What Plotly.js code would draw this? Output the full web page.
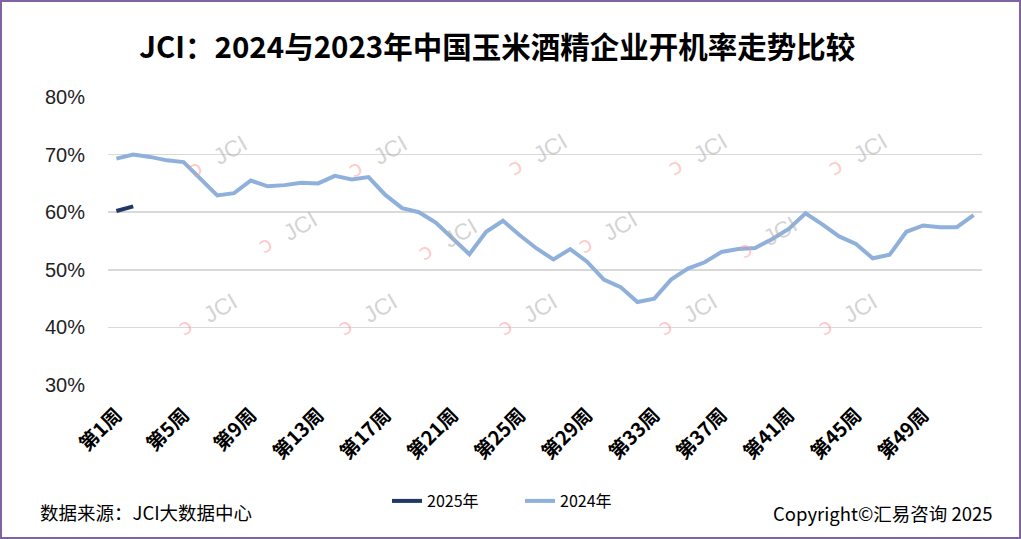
<!DOCTYPE html>
<html>
<head>
<meta charset="utf-8">
<script src="https://cdn.plot.ly/plotly-3.0.1.min.js"></script>
<style>
html,body{margin:0;padding:0;background:#fff;}
#wrap{position:relative;width:1021px;height:539px;}
#chart{position:absolute;left:0;top:0;width:1021px;height:539px;}
#frame{position:absolute;left:0;top:0;width:1021px;height:539px;box-sizing:border-box;border:2px solid #8064A2;pointer-events:none;}
</style>
</head>
<body>
<div id="wrap"><div id="chart"></div><div id="frame"></div></div>
<script>
// Categories: weeks 1..52
var weeks = ["第1周","第2周","第3周","第4周","第5周","第6周","第7周","第8周","第9周","第10周",
"第11周","第12周","第13周","第14周","第15周","第16周","第17周","第18周","第19周","第20周",
"第21周","第22周","第23周","第24周","第25周","第26周","第27周","第28周","第29周","第30周",
"第31周","第32周","第33周","第34周","第35周","第36周","第37周","第38周","第39周","第40周",
"第41周","第42周","第43周","第44周","第45周","第46周","第47周","第48周","第49周","第50周",
"第51周","第52周"];
var tickLabels = ["第1周","第5周","第9周","第13周","第17周","第21周","第25周","第29周","第33周","第37周","第41周","第45周","第49周"];
var yTickVals = [30, 40, 50, 60, 70, 80];
var yTickText = ["30%", "40%", "50%", "60%", "70%", "80%"];
// 开机率 (%)
var rate2025 = [60.2, 61.0];
var rate2024 = [69.3, 70.0, 69.6, 69.0, 68.7, 65.8, 62.9, 63.3, 65.5, 64.5,
64.7, 65.1, 65.0, 66.3, 65.7, 66.1, 63.0, 60.7, 60.0, 58.2,
55.5, 52.7, 56.6, 58.5, 56.0, 53.7, 51.8, 53.6, 51.4, 48.3,
47.0, 44.4, 45.0, 48.3, 50.2, 51.3, 53.1, 53.6, 53.8, 55.3,
57.1, 59.8, 57.9, 55.8, 54.5, 52.0, 52.6, 56.6, 57.7, 57.4,
57.4, 59.5];
var seriesNames = ["2025年","2024年"];
var titleText = "JCI：2024与2023年中国玉米酒精企业开机率走势比较";
var sourceText = "数据来源：JCI大数据中心";
var copyrightText = "Copyright©汇易咨询 2025";

var CJK = "'Noto Sans CJK SC', 'Noto Sans', sans-serif";

var traces = [
  {x: weeks.slice(0, rate2025.length), y: rate2025, name: seriesNames[0], type: 'scatter', mode: 'lines',
   line: {color: '#1F3864', width: 4, shape: 'linear'}},
  {x: weeks, y: rate2024, name: seriesNames[1], type: 'scatter', mode: 'lines',
   line: {color: '#8FB0DA', width: 4, shape: 'linear'}}
];

var L = 108, R = 982, T = 97, B = 385;
function px(x){return (x - L) / (R - L);}
function py(y){return (B - y) / (B - T);}
// watermark centres (pixel) -> paper
var wm = [[230,150],[390,150],[550,148],[710,148],[870,148],
          [300,226],[460,233],[620,226],[780,231],
          [220,308],[380,308],[540,308],[700,308],[860,308]];
var annotations = [];
wm.forEach(function(p){
  annotations.push({xref:'paper', yref:'paper', x: px(p[0]), y: py(p[1]), xanchor:'center', yanchor:'middle',
    text: 'JCI', showarrow:false, textangle: -30,
    font:{family:'Liberation Sans, Arial, sans-serif', size:23, color:'rgba(175,175,175,0.55)'}});
  annotations.push({xref:'paper', yref:'paper', x: px(p[0]-35), y: py(p[1]+18), xanchor:'center', yanchor:'middle',
    text: 'ɔ', showarrow:false, textangle: -30,
    font:{family:'DejaVu Sans, sans-serif', size:22, color:'rgba(255,150,150,0.5)'}});
});
annotations.push({xref:'paper', yref:'paper', x: px(38), y: py(512), xanchor:'left', yanchor:'middle',
  text: sourceText, showarrow:false, font:{family:CJK, size:18.5, color:'#000'}});
annotations.push({xref:'paper', yref:'paper', x: px(995), y: py(513), xanchor:'right', yanchor:'middle',
  text: copyrightText, showarrow:false, font:{family:CJK, size:18.5, color:'#000'}});

var layout = {
  width: 1021, height: 539,
  margin: {l: L, r: 1021 - R, t: T, b: 539 - B, pad: 0},
  paper_bgcolor: '#fff', plot_bgcolor: '#fff',
  title: {text: '<b>' + titleText + '</b>', x: 0.487, xanchor: 'center', y: 1 - 48/539, yanchor: 'middle',
          font: {family: CJK, size: 29.5, color: '#000'}},
  xaxis: {type: 'category', categoryarray: weeks, range: [-0.5, 51.5],
          tickmode: 'array', tickvals: tickLabels, ticktext: tickLabels, tickangle: -45,
          showgrid: false, zeroline: false, showline: false,
          ticks: 'outside', ticklen: 10, tickcolor: 'rgba(0,0,0,0)',
          tickfont: {family: CJK, size: 19.5, color: '#000', weight: 'bold'}},
  yaxis: {range: [30, 80], tickmode: 'array', tickvals: yTickVals, ticktext: yTickText,
          showgrid: true, gridcolor: '#D9D9D9', gridwidth: 1.5, zeroline: false, showline: false,
          ticks: 'outside', ticklen: 18, tickcolor: 'rgba(0,0,0,0)',
          tickfont: {family: 'Liberation Sans, Arial, sans-serif', size: 20, color: '#222'}},
  showlegend: true,
  legend: {orientation: 'h', x: px(520), xanchor: 'center', y: py(501), yanchor: 'middle',
           font: {family: CJK, size: 16, color: '#000'}, bgcolor: 'rgba(0,0,0,0)',
           entrywidth: 88, entrywidthmode: 'pixels'},
  annotations: annotations
};
Plotly.newPlot('chart', traces, layout, {displayModeBar: false, staticPlot: true});
</script>
</body>
</html>
